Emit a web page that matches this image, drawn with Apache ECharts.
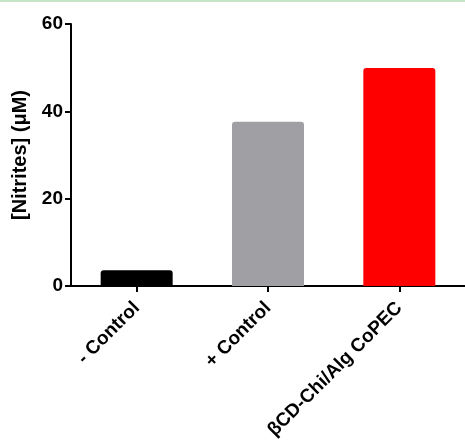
<!DOCTYPE html>
<html><head><meta charset="utf-8">
<script src="https://cdn.jsdelivr.net/npm/echarts@6/dist/echarts.min.js"></script>
<style>html,body{margin:0;padding:0;background:#fff}#c{width:465px;height:444px}</style>
</head><body><div id="c"></div>
<script>
const categories = ['- Control', '+ Control', 'βCD-Chi/Alg CoPEC'];
const values = [3.6, 37.6, 49.9];
const colors = ['#000000', '#a0a0a4', '#ff0000'];
const yTicks = [0, 20, 40, 60];

const chart = echarts.init(document.getElementById('c'));
chart.setOption({
  animation: false,
  backgroundColor: '#ffffff',
  graphic: [{type: 'rect', left: 0, top: 0, shape: {width: 465, height: 2}, style: {fill: '#c5e5c8'}}],
  grid: {left: 71, right: 0, top: 24, bottom: 158},
  xAxis: {
    type: 'category', data: categories,
    axisLine: {lineStyle: {color: '#000', width: 2}},
    axisTick: {show: true, alignWithLabel: true, length: 6, lineStyle: {color: '#000', width: 2}},
    axisLabel: {rotate: 45, interval: 0, color: '#000', fontFamily: 'Liberation Sans, Arial', fontWeight: 'bold', fontSize: 19, margin: 19}
  },
  yAxis: {
    type: 'value', min: 0, max: 60, interval: 20,
    name: '[Nitrites] (μM)', nameLocation: 'middle', nameGap: 31, nameRotate: 90,
    nameTextStyle: {color: '#000', fontFamily: 'Liberation Sans, Arial', fontWeight: 'bold', fontSize: 20},
    axisLine: {show: true, lineStyle: {color: '#000', width: 2}},
    axisTick: {show: true, length: 6, lineStyle: {color: '#000', width: 2}},
    splitLine: {show: false},
    axisLabel: {color: '#000', fontFamily: 'Liberation Sans, Arial', fontWeight: 'bold', fontSize: 19, margin: 8,
      formatter: v => yTicks.includes(v) ? String(v) : ''}
  },
  series: [{
    type: 'bar',
    data: values.map((v, i) => ({value: v, itemStyle: {color: colors[i]}})),
    barWidth: 72,
    itemStyle: {borderRadius: [3, 3, 0, 0]}
  }]
});
</script></body></html>
